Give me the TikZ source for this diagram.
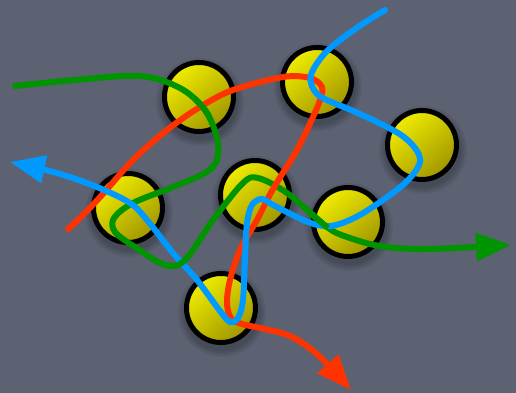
\documentclass[tikz,border=0pt]{standalone}
\usetikzlibrary{arrows.meta}
\definecolor{bg}{RGB}{92,98,114}
\definecolor{ggreen}{RGB}{0,148,0}
\definecolor{rred}{RGB}{255,51,0}
\definecolor{bblue}{RGB}{0,153,255}
\definecolor{ytop}{RGB}{240,236,0}
\definecolor{ybot}{RGB}{160,150,0}
\begin{document}
\begin{tikzpicture}[x=1pt,y=-1pt,
  ball/.style={circle, draw=black, line width=5pt, minimum size=69pt, inner sep=0pt,
    top color=ytop, bottom color=ybot, shading angle=40},
  curve/.style={line width=6pt, line cap=round, line join=round},
  gline/.style={curve, draw=ggreen},
  rline/.style={curve, draw=rred},
  bline/.style={curve, draw=bblue},
  tipG/.style={-{Triangle[length=35pt,width=27pt]}},
]
\fill[bg] (0,0) rectangle (516,393);
% soft shadows
\foreach \x/\y in {199/97,317/82,422/145,128/208,255/195,348/222,221/308}{
  \foreach \r in {44,42,40,38}{
    \fill[black,opacity=0.06] (\x+1,\y+5) circle (\r pt);
  }
}
\node[ball] (c1) at (199,97) {};
\node[ball] (c2) at (317,82) {};
\node[ball] (c3) at (422,145) {};
\node[ball] (c4) at (128,208) {};
\node[ball] (c5) at (255,195) {};
\node[ball] (c6) at (348,222) {};
\node[ball] (c7) at (221,308) {};
% green
\draw[gline,tipG] plot[smooth,tension=0.55] coordinates {(15,86) (75,80) (140,76) (180,88) (205,110) (217,138) (217,160) (205,173) (173,187) (133,203) (114,218) (115,232) (135,247) (165,265) (185,260) (213,220) (243,183) (258,178) (287,193) (327,227) (347,237) (380,246) (425,249) (511,245)};
% red
\draw[rline,tipG] plot[smooth,tension=0.55] coordinates {(68,229) (80,218) (102,195) (133,160) (167,130) (200,107) (233,90) (283,77) (310,78) (322,87) (320,100) (313,117) (297,150) (273,189) (257,220) (240,250) (230,280) (227,303) (231,318) (242,324) (260,328) (290,336) (318,355) (351,390)};
% blue
\draw[bline,tipG] plot[smooth,tension=0.55] coordinates {(385,10) (358,27) (328,50) (313,70) (311,83) (321,97) (358,113) (398,133) (415,148) (420,162) (410,178) (390,195) (358,216) (331,226) (308,222) (275,206) (262,199) (252,205) (247,223) (245,257) (243,300) (238,318) (230,322) (220,311) (197,280) (173,253) (147,220) (130,203) (97,187) (57,173) (10,162)};
% green over-crossings
\begin{scope}
\clip (203,108) circle (13pt) (176,260) circle (11pt) (319,222) circle (11pt);
\draw[gline] plot[smooth,tension=0.55] coordinates {(15,86) (75,80) (140,76) (180,88) (205,110) (217,138) (217,160) (205,173) (173,187) (133,203) (114,218) (115,232) (135,247) (165,265) (185,260) (213,220) (243,183) (258,178) (287,193) (327,227) (347,237) (380,246) (425,249) (511,245)};
\end{scope}
\end{tikzpicture}
\end{document}
